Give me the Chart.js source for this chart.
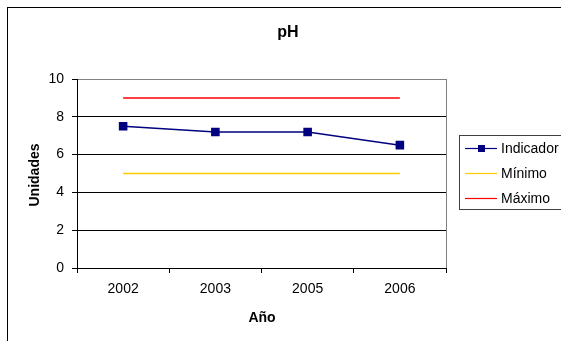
<!DOCTYPE html>
<html>
<head>
<meta charset="utf-8">
<script src="https://cdn.jsdelivr.net/npm/chart.js@4"></script>
<style>
  html, body { margin: 0; padding: 0; background: #fff; }
  #wrap { width: 561px; height: 341px; }
</style>
</head>
<body>
<div id="wrap"><canvas id="c" width="561" height="341"></canvas></div>
<script>
// pH readings per year with the allowed range
const years = ['2002', '2003', '2005', '2006'];
const indicador = [7.5, 7.2, 7.2, 6.5];
const minimo = [5, 5, 5, 5];
const maximo = [9, 9, 9, 9];
const yTicks = [0, 2, 4, 6, 8, 10];

const FONT = '"Liberation Sans", Arial, sans-serif';

const decorations = {
  id: 'decorations',
  beforeDraw(chart) {
    const ctx = chart.ctx;
    const a = chart.chartArea;
    ctx.save();
    ctx.fillStyle = '#fff';
    ctx.fillRect(0, 0, chart.width, chart.height);
    // outer frame
    ctx.strokeStyle = '#000';
    ctx.lineWidth = 1;
    ctx.strokeRect(7.5, 7.5, chart.width + 10, chart.height + 10);
    // plot area outline
    ctx.strokeStyle = '#808080';
    ctx.strokeRect(Math.round(a.left) + 0.5, Math.round(a.top) + 0.5,
      Math.round(a.right - a.left), Math.round(a.bottom - a.top));
    ctx.restore();
  },
  afterDraw(chart) {
    const ctx = chart.ctx;
    ctx.save();
    ctx.fillStyle = '#000';
    ctx.textAlign = 'center';
    ctx.textBaseline = 'middle';
    ctx.font = 'bold 16px ' + FONT;
    ctx.fillText('pH', 288, 33);
    ctx.font = 'bold 14px ' + FONT;
    ctx.fillText('Año', 262, 318);
    ctx.save();
    ctx.translate(35, 175);
    ctx.rotate(-Math.PI / 2);
    ctx.fillText('Unidades', 0, 0);
    ctx.restore();

    // legend
    ctx.strokeStyle = '#404040';
    ctx.lineWidth = 1;
    ctx.strokeRect(459.5, 135.5, 120, 74);
    ctx.font = '14px ' + FONT;
    ctx.textAlign = 'left';
    const rows = [148, 173, 198];
    chart.data.datasets.forEach((ds, i) => {
      const y = rows[i] + 0.5;
      ctx.strokeStyle = ds.borderColor;
      ctx.lineWidth = 1.2;
      ctx.beginPath();
      ctx.moveTo(465, y);
      ctx.lineTo(497, y);
      ctx.stroke();
      if (ds.pointRadius > 0) {
        ctx.fillStyle = ds.pointBackgroundColor;
        ctx.fillRect(478, y - 3.5, 7, 7);
      }
      ctx.fillStyle = '#000';
      ctx.fillText(ds.label, 501, rows[i] + 1);
    });
    ctx.restore();
  }
};

new Chart(document.getElementById('c'), {
  type: 'line',
  data: {
    labels: years,
    datasets: [
      {
        label: 'Indicador', data: indicador,
        borderColor: '#000080', backgroundColor: '#000080',
        pointBackgroundColor: '#000080', pointBorderColor: '#000080',
        pointStyle: 'rect', pointRadius: 5, borderWidth: 1.5, tension: 0
      },
      {
        label: 'Mínimo', data: minimo,
        borderColor: '#FFCC00', backgroundColor: '#FFCC00',
        pointRadius: 0, borderWidth: 1.5, tension: 0
      },
      {
        label: 'Máximo', data: maximo,
        borderColor: '#FF0000', backgroundColor: '#FF0000',
        pointRadius: 0, borderWidth: 1.5, tension: 0
      }
    ]
  },
  options: {
    responsive: false,
    animation: false,
    layout: { padding: { left: 7, top: 79, right: 115, bottom: 43 } },
    plugins: { legend: { display: false }, title: { display: false }, tooltip: { enabled: false } },
    scales: {
      x: {
        offset: true,
        grid: { offset: true, drawOnChartArea: false, drawTicks: true, tickLength: 5, color: '#000' },
        border: { color: '#000', width: 1 },
        ticks: { color: '#000', font: { family: FONT, size: 14 }, padding: 8, maxRotation: 0 },
        afterFit(scale) { scale.height = 30; }
      },
      y: {
        min: 0, max: 10,
        afterBuildTicks(scale) { scale.ticks = yTicks.map(v => ({ value: v })); },
        grid: {
          color: (c) => (c.tick && c.tick.value === 10) ? '#808080' : '#000',
          tickLength: 5, tickColor: '#000'
        },
        border: { color: '#000', width: 1 },
        ticks: { color: '#000', font: { family: FONT, size: 14 }, padding: 8 },
        afterFit(scale) { scale.width = 70; }
      }
    }
  },
  plugins: [decorations]
});
</script>
</body>
</html>
